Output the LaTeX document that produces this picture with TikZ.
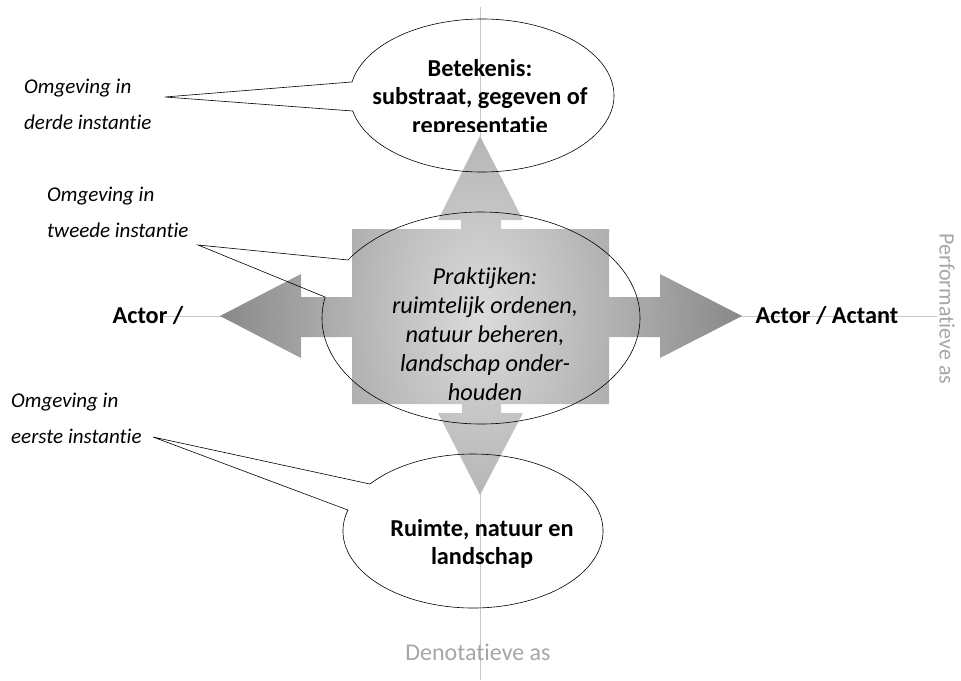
\documentclass[tikz,border=0pt]{standalone}
\usepackage{fontspec}
\setmainfont{Carlito}[Ligatures=NoCommon]
\usetikzlibrary{calc}

\begin{document}
\begin{tikzpicture}[x=1pt,y=1pt,
  axis/.style={draw=black!22,line width=1pt},
  bubble/.style={draw=black,line width=0.6pt},
  kop/.style={font=\fontsize{24.3}{28.5}\selectfont\bfseries,align=center},
  praktijk/.style={font=\fontsize{24.3}{29}\selectfont\itshape,align=center},
  omg/.style={font=\fontsize{21}{36}\selectfont\itshape,align=left,anchor=west,inner sep=0pt},
  aslabel/.style={font=\fontsize{24}{28}\selectfont,text=black!35}]
  \useasboundingbox (0,0) rectangle (961,-680);

  \coordinate (top) at (482,-95.5);
  \coordinate (mid) at (481,-318);
  \coordinate (bot) at (473,-531);
  \coordinate (tipA) at (165,-97);
  \coordinate (tipB) at (198,-245);
  \coordinate (tipC) at (153,-437);
  \coordinate (axN) at (480,-7);
  \coordinate (axS) at (480,-680);
  \coordinate (axW) at (163,-316);
  \coordinate (axE) at (937,-316);

  % assen
  \draw[axis] (axN) -- (axS);
  \draw[axis] (axW) -- (axE);

  % kruis met vier pijlen
  \begin{scope}
    \clip (352,-229) -- (461,-229) -- (461,-220) -- (438,-220) -- (480,-136)
      -- (523,-220) -- (501,-220) -- (501,-229) -- (609,-229) -- (609,-297)
      -- (660,-297) -- (660,-274) -- (742,-316) -- (660,-358) -- (660,-337)
      -- (609,-337) -- (609,-404) -- (501,-404) -- (501,-413) -- (523,-413)
      -- (480,-495) -- (438,-413) -- (462,-413) -- (462,-404) -- (352,-404)
      -- (352,-337) -- (301,-337) -- (301,-358) -- (220,-316) -- (301,-274)
      -- (301,-297) -- (352,-297) -- cycle;
    \shade[inner color=black!14,outer color=black!47] (480,-316) ellipse [x radius=265,y radius=400];
  \end{scope}

  % ballonnen
  \draw[bubble] (tipA) -- ($(top)+(191.7:132 and 76.5)$)
    arc[start angle=191.7,end angle=529.8,x radius=132,y radius=76.5] -- cycle;
  \draw[bubble] (tipB) -- ($(mid)+(168.6:159 and 106)$)
    arc[start angle=168.6,end angle=506.8,x radius=159,y radius=106] -- cycle;
  \draw[bubble] (tipC) -- ($(bot)+(164.2:130 and 77)$)
    arc[start angle=164.2,end angle=502.4,x radius=130,y radius=77] -- cycle;

  % teksten
  \begin{scope}
    \clip (300,0) rectangle (660,-131);
    \node[kop] (betekenis) at (480,-98) {Betekenis:\\substraat, gegeven of\\representatie};
  \end{scope}
  \node[praktijk] (praktijken) at (485,-334) {Praktijken:\\ruimtelijk ordenen,\\natuur beheren,\\landschap onder-\\houden};
  \node[kop] (ruimte) at (482,-544) {Ruimte, natuur en\\landschap};
  \node[omg] (derde) at (24,-104) {Omgeving in\\derde instantie};
  \node[omg] (tweede) at (47,-212) {Omgeving in\\tweede instantie};
  \node[omg] (eerste) at (11,-418) {Omgeving in\\eerste instantie};
  \node[kop] (actorW) at (148,-316) {Actor /};
  \node[kop] (actorE) at (827,-316) {Actor / Actant};
  \node[aslabel] (denot) at (478,-652) {Denotatieve as};
  \node[aslabel,rotate=-90,font=\fontsize{22}{26}\selectfont] (perf) at (947,-309) {Performatieve as};
\end{tikzpicture}
\end{document}
